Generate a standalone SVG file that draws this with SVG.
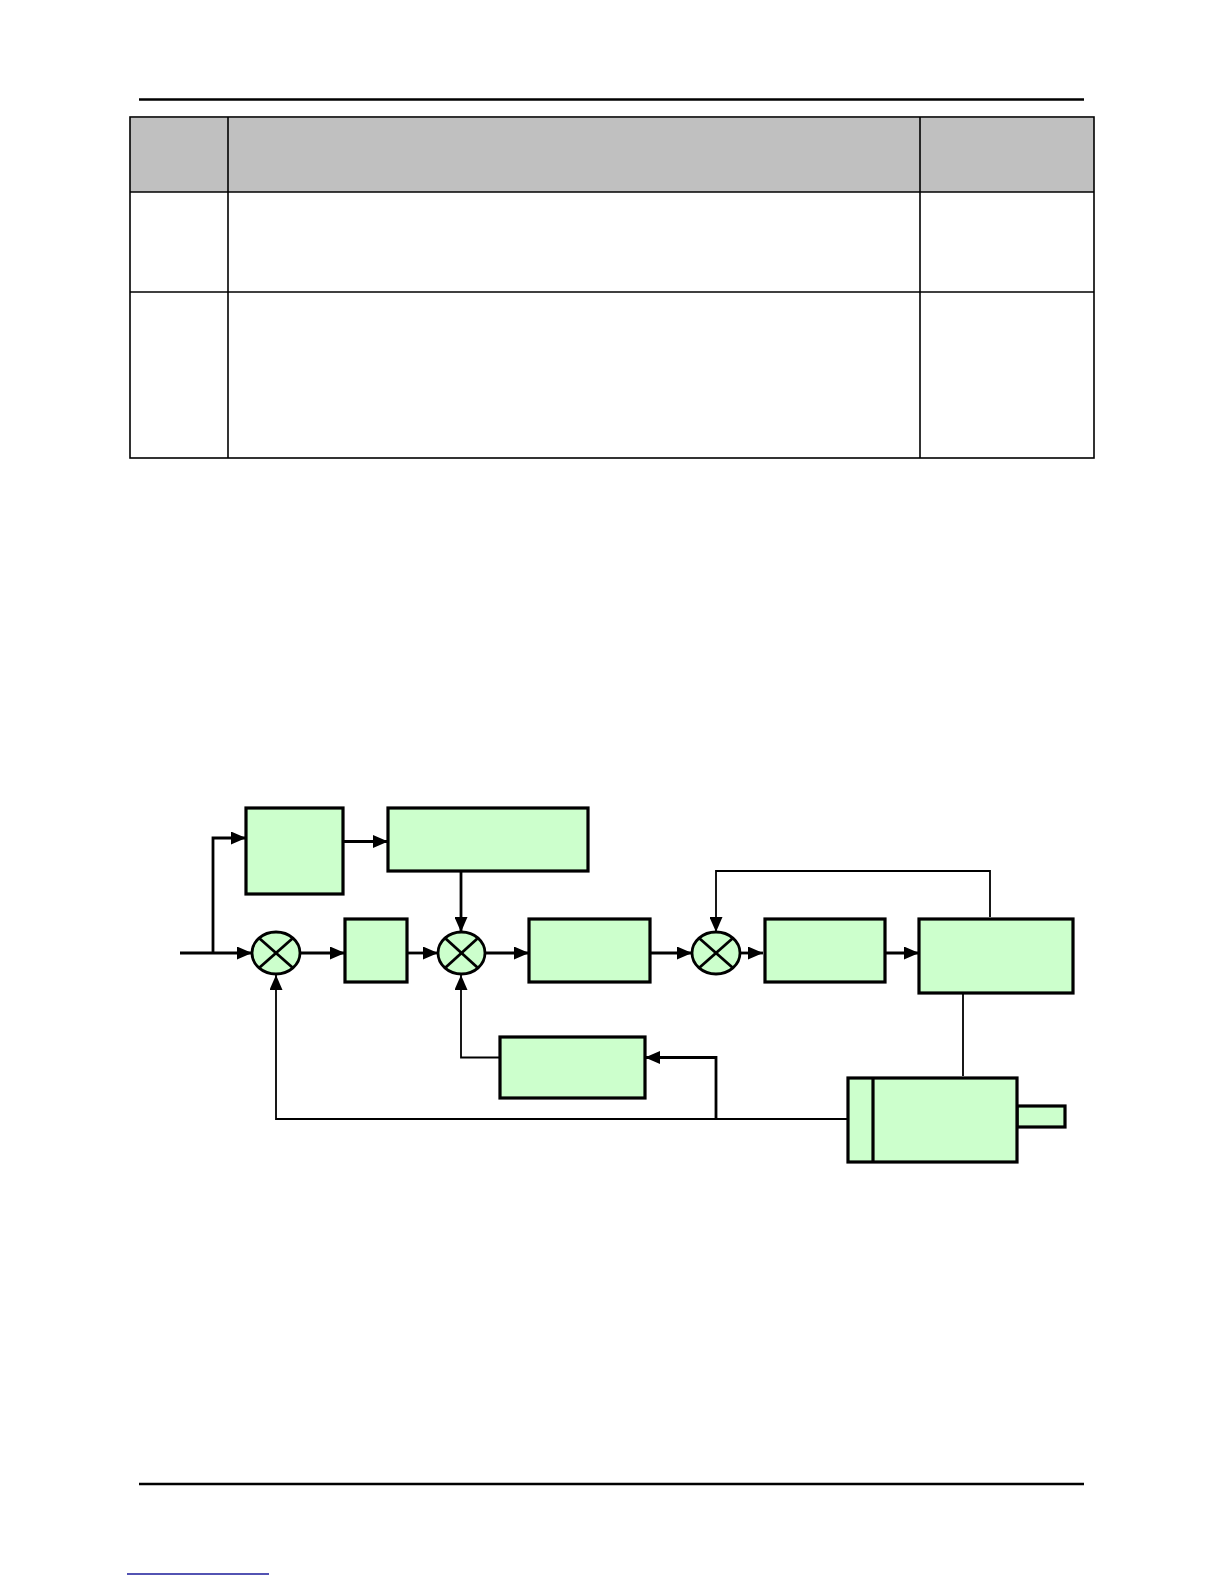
<svg xmlns="http://www.w3.org/2000/svg" width="1224" height="1584" viewBox="0 0 1224 1584">
<style>
.blk{fill:#ccffcc;stroke:#000;stroke-width:3.2}
.sum{fill:#ccffcc;stroke:#000;stroke-width:2.8}
.x{stroke:#000;stroke-width:2.8}
.w{fill:none;stroke:#000;stroke-width:2.8}
.t{fill:none;stroke:#000;stroke-width:1.8}
.rule{stroke:#000;stroke-width:2.5}
.grid{fill:none;stroke:#000;stroke-width:1.6}
</style>
<defs>
<marker id="ah" viewBox="0 0 15 13" refX="15" refY="6.5" markerWidth="15" markerHeight="13" markerUnits="userSpaceOnUse" orient="auto">
<path d="M0,0 L15,6.5 L0,13 z" fill="#000"/>
</marker>
</defs>
<rect width="1224" height="1584" fill="#fff"/>
<g id="page">
<line class="rule" x1="139" y1="99.5" x2="1084" y2="99.5"/>
<line class="rule" x1="139" y1="1484" x2="1084" y2="1484"/>
<line x1="127" y1="1574" x2="269" y2="1574" stroke="#1a1a9a" stroke-width="1.5"/>
</g>
<g id="table">
<rect x="130" y="118" width="964" height="74" fill="#c0c0c0"/>
<rect class="grid" x="130" y="117" width="964" height="341" stroke-width="2"/>
<line class="grid" x1="130" y1="192" x2="1094" y2="192" stroke-width="2.2"/>
<line class="grid" x1="130" y1="292" x2="1094" y2="292"/>
<line class="grid" x1="228" y1="117" x2="228" y2="458"/>
<line class="grid" x1="920" y1="117" x2="920" y2="458"/>
</g>
<g id="connectors">
<path class="w" d="M180,953 L252,953" marker-end="url(#ah)"/>
<path class="w" d="M213,953 L213,838 L246,838" marker-end="url(#ah)"/>
<path class="w" d="M343,841.5 L388,841.5" marker-end="url(#ah)"/>
<path class="w" d="M461,871 L461,932" marker-end="url(#ah)"/>
<path class="w" d="M300,953 L345,953" marker-end="url(#ah)"/>
<path class="w" d="M407,953 L438,953" marker-end="url(#ah)"/>
<path class="w" d="M485,953 L529,953" marker-end="url(#ah)"/>
<path class="w" d="M650,953 L692,953" marker-end="url(#ah)"/>
<path class="w" d="M740,953 L763,953" marker-end="url(#ah)"/>
<path class="w" d="M885,953 L919,953" marker-end="url(#ah)"/>
<path class="t" d="M990,917 L990,871 L716,871 L716,932" marker-end="url(#ah)"/>
<path class="t" d="M963,994 L963,1076"/>
<path class="t" d="M848,1119 L276,1119 L276,975" marker-end="url(#ah)"/>
<path class="w" d="M716,1119 L716,1057.5 L645,1057.5" marker-end="url(#ah)"/>
<path class="t" d="M500,1057.5 L461,1057.5 L461,975" marker-end="url(#ah)"/>
</g>
<g id="n1"><rect class="blk" x="246" y="808" width="97" height="86"/></g>
<g id="n2"><rect class="blk" x="388" y="808" width="200" height="63"/></g>
<g id="sum1"><ellipse class="sum" cx="276" cy="953" rx="24" ry="21"/><line class="x" x1="259" y1="938" x2="293" y2="968"/><line class="x" x1="293" y1="938" x2="259" y2="968"/></g>
<g id="n3"><rect class="blk" x="345" y="919" width="62" height="63"/></g>
<g id="sum2"><ellipse class="sum" cx="461.5" cy="953" rx="23.5" ry="21"/><line class="x" x1="445" y1="938" x2="478" y2="968"/><line class="x" x1="478" y1="938" x2="445" y2="968"/></g>
<g id="n4"><rect class="blk" x="529" y="919" width="121" height="63"/></g>
<g id="sum3"><ellipse class="sum" cx="716" cy="953" rx="24" ry="21"/><line class="x" x1="699" y1="938" x2="733" y2="968"/><line class="x" x1="733" y1="938" x2="699" y2="968"/></g>
<g id="n5"><rect class="blk" x="765" y="919" width="120" height="63"/></g>
<g id="n6"><rect class="blk" x="919" y="919" width="154" height="74"/></g>
<g id="n7"><rect class="blk" x="500" y="1037" width="145" height="61"/></g>
<g id="motor">
<rect class="blk" x="1017" y="1106" width="48" height="21"/>
<rect class="blk" x="848" y="1078" width="169" height="84"/>
<line x1="873" y1="1078" x2="873" y2="1162" stroke="#000" stroke-width="3.2"/>
</g>
</svg>
